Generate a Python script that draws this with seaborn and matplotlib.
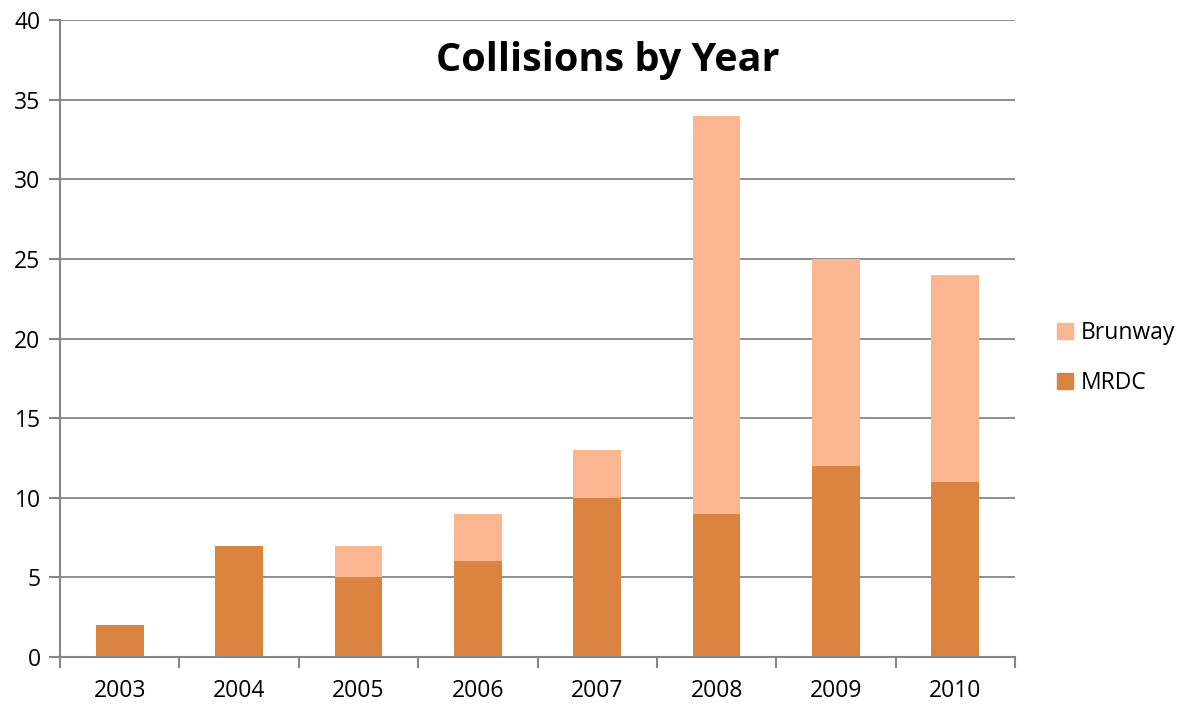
import pandas as pd
import matplotlib.pyplot as plt
import seaborn as sns
from matplotlib.patches import Patch

years = ['2003', '2004', '2005', '2006', '2007', '2008', '2009', '2010']
mrdc = [2, 7, 5, 6, 10, 9, 12, 11]
brunway = [0, 0, 2, 3, 3, 25, 13, 13]

mrdc_color = '#DB843F'
brunway_color = '#F9B690'
grid_color = '#868686'

df = pd.DataFrame({'year': years, 'MRDC': mrdc, 'Brunway': brunway})
df['total'] = df['MRDC'] + df['Brunway']

sns.set_style('white')
plt.rcParams['font.family'] = ['Open Sans', 'DejaVu Sans']
plt.rcParams['text.color'] = 'black'

fig = plt.figure(figsize=(11.78, 7.04), dpi=100)
ax = fig.add_axes([60 / 1178, 1 - 657 / 704, 955 / 1178, 637 / 704])

# stacked: draw totals first, then the lower segment over them
sns.barplot(data=df, x='year', y='total', color=brunway_color, width=0.4,
            saturation=1, linewidth=0, ax=ax)
sns.barplot(data=df, x='year', y='MRDC', color=mrdc_color, width=0.4,
            saturation=1, linewidth=0, ax=ax)

ax.set_ylim(0, 40)
ax.set_xlim(-0.5, len(years) - 0.5)
ax.set_yticks(range(0, 41, 5))
ax.set_xlabel('')
ax.set_ylabel('')
ax.yaxis.grid(True, color=grid_color, linewidth=1.3)
ax.set_axisbelow(True)

for side in ['top', 'right']:
    ax.spines[side].set_visible(False)
for side in ['left', 'bottom']:
    ax.spines[side].set_color(grid_color)
    ax.spines[side].set_linewidth(1.5)

# x ticks sit between categories, labels under the bars
ax.set_xticks([i - 0.5 for i in range(len(years) + 1)])
ax.set_xticklabels([])
ax.set_xticks(range(len(years)), minor=True)
ax.set_xticklabels(years, minor=True)
ax.tick_params(axis='x', which='major', length=8, width=1.5, color=grid_color,
               direction='out')
ax.tick_params(axis='x', which='minor', length=0, pad=16, labelsize=16.5)
ax.tick_params(axis='y', length=8, width=1.5, color=grid_color,
               direction='out', labelsize=16.5, pad=6)
ax.tick_params(axis='both', which='both', labelcolor='black')
ax.yaxis.set_tick_params(left=True)
ax.xaxis.set_tick_params(bottom=True)

fig.text(608 / 1178, 1 - 60 / 704, 'Collisions by Year', ha='center',
         va='center', fontsize=28.5, fontweight='bold', color='black')

handles = [Patch(color=brunway_color, label='Brunway'),
           Patch(color=mrdc_color, label='MRDC')]
fig.legend(handles=handles, loc='center left',
           bbox_to_anchor=(1057 / 1178, 1 - 358 / 704), frameon=False,
           fontsize=16.5, handlelength=0.7, handleheight=0.7,
           handletextpad=0.35, labelspacing=1.1, borderpad=0,
           borderaxespad=0)

fig.savefig('out.png', dpi=100)
